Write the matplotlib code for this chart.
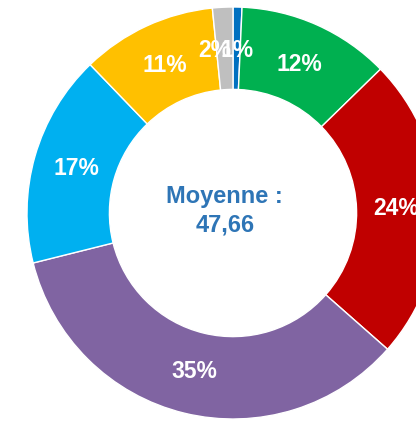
import matplotlib.pyplot as plt

# Share of each category, clockwise from the top
labels = ["A", "B", "C", "D", "E", "F", "G"]
values = [0.7, 12.0, 23.8, 34.6, 16.7, 10.6, 1.6]
colors = ["#0070C0", "#00B050", "#C00000", "#8064A2", "#00B0F0", "#FFC000", "#BFBFBF"]
center_text = "Moyenne :\n47,66"

plt.rcParams["font.family"] = ["Liberation Sans", "DejaVu Sans"]

fig = plt.figure(figsize=(4.16, 4.21), dpi=100)
ax = fig.add_axes([0, 0, 1, 1])

wedges, texts, autotexts = ax.pie(
    values,
    colors=colors,
    startangle=90,
    counterclock=False,
    radius=1.0,
    autopct=lambda p: f"{p:.0f}%",
    pctdistance=0.79,
    wedgeprops=dict(width=0.4, edgecolor="white", linewidth=1),
    textprops=dict(color="white", fontsize=16.5, fontweight="bold"),
)

# the two tiny slices: push the grey label a bit left, as in the original
x, y = autotexts[-1].get_position()
autotexts[-1].set_position((x - 0.05, y))

ax.text(-0.04, 0.01, center_text, ha="center", va="center", color="#2E75B6",
        fontsize=17, fontweight="bold", linespacing=1.3)

# keep the ring where it sits in the original (right side cut off)
ax.set_aspect("auto")
ax.set_xlim(-233 / 206, (416 - 233) / 206)
ax.set_ylim(-(421 - 213) / 206, 213 / 206)
ax.axis("off")

fig.savefig("out.png", dpi=100)
